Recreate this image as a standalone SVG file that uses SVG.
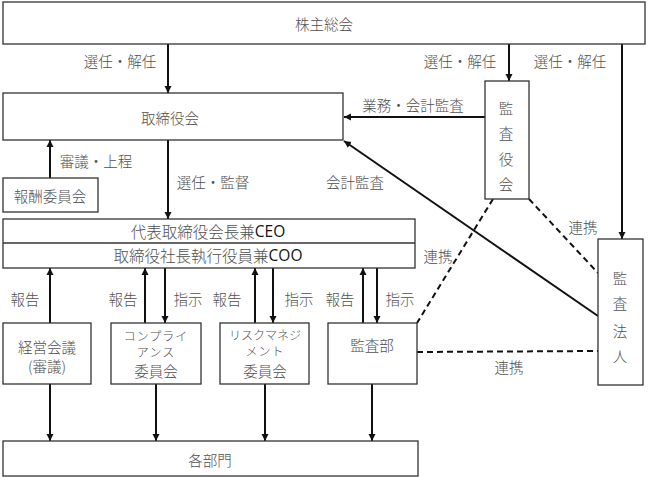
<svg xmlns="http://www.w3.org/2000/svg" width="648" height="477" viewBox="0 0 648 477">
<style>
.box{fill:#fff;stroke:#333;stroke-width:1.3}
.t{font-family:"Noto Sans CJK JP","Noto Sans",sans-serif;font-size:14.5px;font-weight:300;fill:#505050;text-anchor:middle;dominant-baseline:central}
.s{font-size:12px}
.b{font-size:15.5px}
.e{font-family:"Open Sans","Liberation Sans",sans-serif;font-weight:400;fill:#111}
.c{stroke:#111;stroke-width:2;fill:none}
.d{stroke:#111;stroke-width:2;fill:none;stroke-dasharray:6 4}
</style>
<defs>
<marker id="ah" markerWidth="8" markerHeight="8" refX="7" refY="4" orient="auto" markerUnits="userSpaceOnUse"><path d="M0,0.5 L7,4 L0,7.5Z" fill="#111"/></marker>
</defs>
<rect width="648" height="477" fill="#fff"/>
<g id="connectors">
<line class="c" x1="168" y1="44" x2="168" y2="93" marker-end="url(#ah)"/>
<line class="c" x1="509" y1="44" x2="509" y2="81" marker-end="url(#ah)"/>
<line class="c" x1="622" y1="44" x2="622" y2="239" marker-end="url(#ah)"/>
<line class="c" x1="485" y1="117" x2="344" y2="117" marker-end="url(#ah)"/>
<line class="c" x1="50" y1="178" x2="50" y2="140" marker-end="url(#ah)"/>
<line class="c" x1="168" y1="140" x2="168" y2="219" marker-end="url(#ah)"/>
<line class="c" x1="598" y1="316" x2="344" y2="141" marker-end="url(#ah)"/>
<line class="d" x1="493" y1="199" x2="417" y2="323"/>
<line class="d" x1="529" y1="199" x2="598" y2="273"/>
<line class="d" x1="417" y1="352" x2="598" y2="351"/>
<line class="c" x1="50" y1="323" x2="50" y2="268" marker-end="url(#ah)"/>
<line class="c" x1="145" y1="323" x2="145" y2="268" marker-end="url(#ah)"/>
<line class="c" x1="255" y1="323" x2="255" y2="268" marker-end="url(#ah)"/>
<line class="c" x1="363" y1="323" x2="363" y2="268" marker-end="url(#ah)"/>
<line class="c" x1="165" y1="268" x2="165" y2="323" marker-end="url(#ah)"/>
<line class="c" x1="273" y1="268" x2="273" y2="323" marker-end="url(#ah)"/>
<line class="c" x1="377" y1="268" x2="377" y2="323" marker-end="url(#ah)"/>
<line class="c" x1="50" y1="384" x2="50" y2="441" marker-end="url(#ah)"/>
<line class="c" x1="156" y1="384" x2="156" y2="441" marker-end="url(#ah)"/>
<line class="c" x1="265" y1="384" x2="265" y2="441" marker-end="url(#ah)"/>
<line class="c" x1="372" y1="384" x2="372" y2="441" marker-end="url(#ah)"/>
<text class="t" x="120" y="60">選任・解任</text>
<text class="t" x="460" y="60">選任・解任</text>
<text class="t" x="570" y="60">選任・解任</text>
<text class="t" x="413" y="104">業務・会計監査</text>
<text class="t" x="96" y="160">審議・上程</text>
<text class="t" x="213" y="181">選任・監督</text>
<text class="t" x="355" y="181">会計監査</text>
<text class="t" x="583" y="226">連携</text>
<text class="t" x="438" y="255">連携</text>
<text class="t" x="509" y="366">連携</text>
<text class="t" x="25" y="298">報告</text>
<text class="t" x="123" y="298">報告</text>
<text class="t" x="188" y="298">指示</text>
<text class="t" x="227" y="298">報告</text>
<text class="t" x="299" y="298">指示</text>
<text class="t" x="340" y="298">報告</text>
<text class="t" x="400" y="298">指示</text>
</g>
<g id="shareholders"><rect class="box" x="3" y="2" width="642" height="42"/><text class="t" x="324" y="23">株主総会</text></g>
<g id="board"><rect class="box" x="3" y="93" width="340" height="47"/><text class="t" x="170" y="117">取締役会</text></g>
<g id="audit-board"><rect class="box" x="485" y="81" width="44" height="118"/>
<text class="t" x="506" y="107">監</text><text class="t" x="506" y="132">査</text><text class="t" x="506" y="158">役</text><text class="t" x="506" y="183">会</text></g>
<g id="compensation"><rect class="box" x="3" y="178" width="95" height="34"/><text class="t" x="50" y="195">報酬委員会</text></g>
<g id="ceo"><rect class="box" x="3" y="219" width="412" height="49"/><line x1="3" y1="243" x2="415" y2="243" stroke="#333" stroke-width="1.3"/>
<text class="t b" x="208" y="231">代表取締役会長兼<tspan class="e">CEO</tspan></text>
<text class="t b" x="208" y="255">取締役社長執行役員兼<tspan class="e">COO</tspan></text></g>
<g id="auditor"><rect class="box" x="598" y="239" width="45" height="146"/>
<text class="t" x="620" y="277">監</text><text class="t" x="620" y="302">査</text><text class="t" x="620" y="330">法</text><text class="t" x="620" y="355">人</text></g>
<g id="management"><rect class="box" x="3" y="323" width="88" height="61"/><text class="t" x="47" y="346">経営会議</text><text class="t" x="47" y="365">(審議)</text></g>
<g id="compliance"><rect class="box" x="111" y="323" width="90" height="61"/><text class="t s" x="156" y="335" letter-spacing="1">コンプライ</text><text class="t s" x="156" y="351" letter-spacing="1">アンス</text><text class="t" x="156" y="370">委員会</text></g>
<g id="risk"><rect class="box" x="220" y="323" width="89" height="61"/><text class="t s" x="265" y="334">リスクマネジ</text><text class="t s" x="265" y="350" letter-spacing="1">メント</text><text class="t" x="265" y="370">委員会</text></g>
<g id="internal-audit"><rect class="box" x="328" y="323" width="89" height="61"/><text class="t" x="372" y="344">監査部</text></g>
<g id="departments"><rect class="box" x="3" y="441" width="415" height="35"/><text class="t" x="210" y="459">各部門</text></g>
</svg>
